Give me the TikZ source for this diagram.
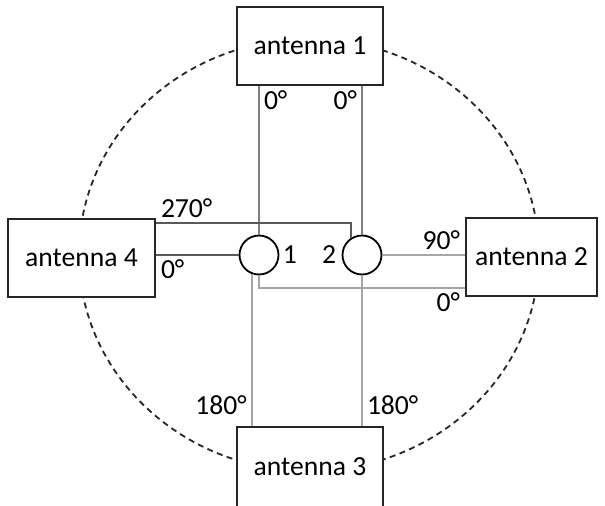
\documentclass[tikz,border=0pt]{standalone}
\usepackage{fontspec}
\setmainfont{Carlito}
\usepackage{tikz}
\usetikzlibrary{calc, positioning}
\definecolor{wiredark}{RGB}{89, 89, 89}
\definecolor{wiremid}{RGB}{127, 127, 127}
\definecolor{wirelight}{RGB}{166, 166, 166}
\definecolor{boxborder}{RGB}{38, 38, 38}
\tikzset{
  font=\fontsize{13.8}{16}\selectfont,
  antennabox/.style={
    rectangle, draw=boxborder, fill=white, line width=1pt,
    minimum width=73pt, minimum height=39pt, inner sep=0pt
  },
  hybrid/.style={
    circle, draw=black, fill=white, line width=0.9pt,
    minimum size=19.5pt, inner sep=0pt
  },
  wirea/.style={draw=wiredark, line width=1pt},
  wireb/.style={draw=wiremid, line width=1pt},
  wirec/.style={draw=wirelight, line width=1pt},
  ringline/.style={draw=black!85, line width=0.9pt, dash pattern=on 3pt off 2.2pt},
  phase/.style={inner sep=2pt}
}
\begin{document}
\begin{tikzpicture}[x=0.5pt, y=0.5pt]
  \useasboundingbox (0,0) rectangle (605,505);

  % Dashed ring behind the antennas
  \draw[ringline] (309,250) ellipse [x radius=230, y radius=216];

  % Antennas
  \node[antennabox] (ant1) at (310,459) {antenna 1};
  \node[antennabox, minimum width=65.5pt] (ant2) at (531.5,248) {antenna 2};
  \node[antennabox, minimum height=40pt] (ant3) at (310,38) {antenna 3};
  \node[antennabox, minimum width=73.5pt] (ant4) at (81.5,247.5) {antenna 4};

  % Hybrid couplers
  \node[hybrid] (hyb1) at (259,250) {};
  \node[hybrid] (hyb2) at (362,250) {};
  \node[phase, inner sep=1.5pt, anchor=west] (num1) at (hyb1.east) {1};
  \node[phase, inner sep=2.5pt, anchor=east] (num2) at (hyb2.west) {2};

  % Feed lines
  \coordinate (tap270) at ($(ant4.north east)+(0,-5)$);
  \coordinate (tap0) at ($(ant2.south west)+(0,9)$);

  \draw[wireb] (hyb1.north) -- (hyb1.north |- ant1.south) node[phase, anchor=north west] {0°};
  \draw[wireb] (hyb2.north) -- (hyb2.north |- ant1.south) node[phase, anchor=north east] {0°};
  \draw[wirea] (tap270) node[phase, anchor=south west] {270°} -| (hyb2.121);
  \draw[wirea] (hyb1.west) -- (hyb1.west -| ant4.east) node[phase, anchor=north west] {0°};
  \draw[wirec] (hyb2.east) -- (hyb2.east -| ant2.west) node[phase, anchor=south east] {90°};
  \draw[wirec] (hyb1.south) |- (tap0) node[phase, anchor=north east] {0°};
  \draw[wirec] (hyb1.249) -- (hyb1.249 |- ant3.north) node[phase, anchor=south east, yshift=3pt] {180°};
  \draw[wirec] (hyb2.south) -- (hyb2.south |- ant3.north) node[phase, anchor=south west, yshift=3pt] {180°};
\end{tikzpicture}
\end{document}
